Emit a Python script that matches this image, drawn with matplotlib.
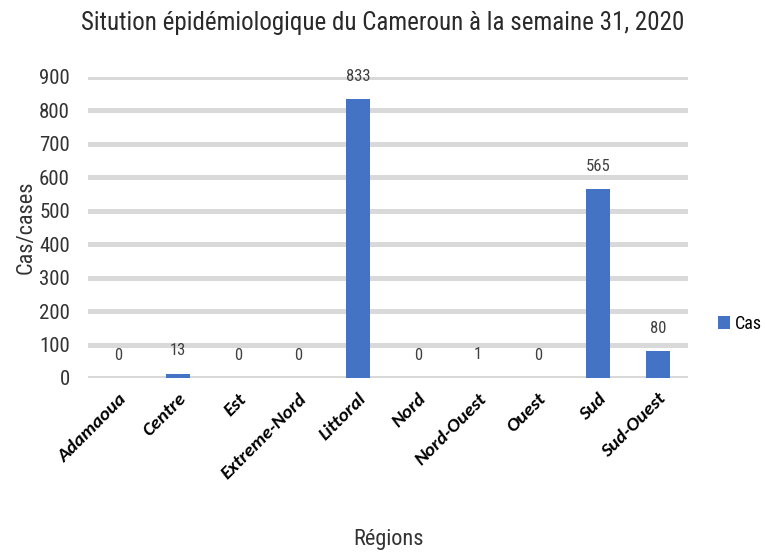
import matplotlib
matplotlib.use("Agg")
import matplotlib.pyplot as plt
import numpy as np

regions = ["Adamaoua", "Centre", "Est", "Extreme-Nord", "Littoral",
           "Nord", "Nord-Ouest", "Ouest", "Sud", "Sud-Ouest"]
cases = [0, 13, 0, 0, 833, 0, 1, 0, 565, 80]
yticks = [0, 100, 200, 300, 400, 500, 600, 700, 800, 900]

narrow = ["Liberation Sans Narrow", "Roboto Condensed", "Lato", "DejaVu Sans"]
bold_it = ["Carlito", "Lato", "DejaVu Sans"]

fig = plt.figure(figsize=(7.65, 5.53), dpi=100)
ax = fig.add_axes([0.115, 0.3165, 0.784, 0.5443])

x = np.arange(len(regions))
for t in yticks:
    ax.axhline(t, color="#d9d9d9", linewidth=3.6, zorder=0)
ax.bar(x, cases, width=0.4, color="#4472c4", label="Cas", zorder=2)

for xi, v in zip(x, cases):
    ax.annotate(str(v), (xi, v), xytext=(0, 11), textcoords="offset points",
                ha="center", va="bottom", fontsize=12, color="#404040",
                family=narrow)

ax.set_xlim(-0.5, len(regions) - 0.5)
ax.set_ylim(0, 900)
ax.set_yticks(yticks)
ax.set_yticklabels([str(t) for t in yticks], family=narrow, fontsize=15,
                   color="#333333")
ax.set_xticks(x)
ax.set_xticklabels(regions, rotation=45, ha="right", rotation_mode="anchor",
                   fontsize=14, fontweight="bold", fontstyle="italic",
                   family=bold_it)
ax.tick_params(axis="both", length=0)
ax.tick_params(axis="y", pad=13)
ax.tick_params(axis="x", pad=9)
for s in ax.spines.values():
    s.set_visible(False)

ax.set_ylabel("Cas/cases", family=narrow, fontsize=16, color="#333333",
              labelpad=2)
fig.text(0.508, 0.024, "Régions", family=narrow, fontsize=16, color="#333333",
         ha="center", va="center")
fig.text(0.5, 0.958, "Sitution épidémiologique du Cameroun à la semaine 31, 2020",
         family=narrow, fontsize=18, color="#2a2a2a", ha="center", va="center")

ax.legend(loc="center left", bbox_to_anchor=(1.05, 0.18), frameon=False,
          borderaxespad=0, borderpad=0,
          handlelength=0.7, handleheight=0.7, handletextpad=0.25,
          prop={"family": narrow, "size": 13})

fig.savefig("out.png", dpi=100)
